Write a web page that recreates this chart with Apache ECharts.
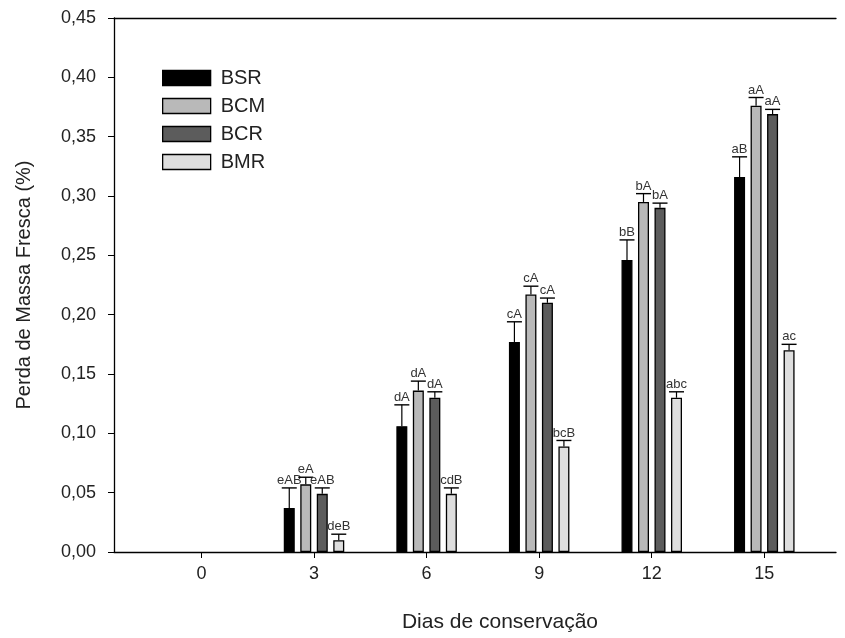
<!DOCTYPE html>
<html>
<head>
<meta charset="utf-8">
<script src="https://cdn.jsdelivr.net/npm/echarts@6/dist/echarts.min.js"></script>
<style>html,body{margin:0;padding:0;background:#fff}#c{width:845px;height:638px}</style>
</head>
<body>
<div id="c"></div>
<script>
var days = [0, 3, 6, 9, 12, 15];
var seriesNames = ['BSR', 'BCM', 'BCR', 'BMR'];
var BSR = [0, 0.037, 0.106, 0.177, 0.246, 0.316];
var BCM = [0, 0.057, 0.136, 0.217, 0.295, 0.376];
var BCR = [0, 0.049, 0.130, 0.210, 0.290, 0.369];
var BMR = [0, 0.010, 0.049, 0.089, 0.130, 0.170];
var BSR_err = [0, 0.017, 0.018, 0.017, 0.017, 0.017];
var BCM_err = [0, 0.006, 0.008, 0.007, 0.007, 0.007];
var BCR_err = [0, 0.005, 0.005, 0.004, 0.004, 0.004];
var BMR_err = [0, 0.005, 0.005, 0.005, 0.005, 0.005];
var BSR_lab = ['', 'eAB', 'dA', 'cA', 'bB', 'aB'];
var BCM_lab = ['', 'eA', 'dA', 'cA', 'bA', 'aA'];
var BCR_lab = ['', 'eAB', 'dA', 'cA', 'bA', 'aA'];
var BMR_lab = ['', 'deB', 'cdB', 'bcB', 'abc', 'ac'];

var values = [BSR, BCM, BCR, BMR];
var errs = [BSR_err, BCM_err, BCR_err, BMR_err];
var labs = [BSR_lab, BCM_lab, BCR_lab, BMR_lab];
var colors = ['#000000', '#b9b9b9', '#5c5c5c', '#dedede'];

var BAR_W = 11, BAR_STEP = 16.5, CAP_W = 15;
var font = '"Liberation Sans", Arial, sans-serif';

var series = [];
seriesNames.forEach(function (name, i) {
  var d = [];
  days.forEach(function (day, k) { if (values[i][k] > 0) d.push([day, values[i][k]]); });
  series.push({
    name: name, type: 'bar', data: d, barWidth: BAR_W, barGap: '50%',
    itemStyle: { color: colors[i], borderColor: '#000', borderWidth: 1.3 },
    silent: true, z: 2
  });
});
seriesNames.forEach(function (name, i) {
  var d = [];
  days.forEach(function (day, k) { if (values[i][k] > 0) d.push([day, values[i][k], errs[i][k], k]); });
  series.push({
    type: 'custom', data: d, silent: true, z: 3, clip: false,
    renderItem: function (params, api) {
      var x = api.value(0), v = api.value(1), e = api.value(2), k = api.value(3);
      var base = api.coord([x, v]);
      var top = api.coord([x, v + e]);
      var cx = base[0] + (i - 1.5) * BAR_STEP;
      return {
        type: 'group',
        children: [
          { type: 'line', shape: { x1: cx, y1: base[1], x2: cx, y2: top[1] }, style: { stroke: '#000', lineWidth: 1.2 } },
          { type: 'line', shape: { x1: cx - CAP_W / 2, y1: top[1], x2: cx + CAP_W / 2, y2: top[1] }, style: { stroke: '#000', lineWidth: 1.4 } },
          { type: 'text', x: cx, y: top[1] - 1, style: { text: labs[i][k], fill: '#333', font: '13px ' + font, align: 'center', verticalAlign: 'bottom' } }
        ]
      };
    }
  });
});

var chart = echarts.init(document.getElementById('c'));
chart.setOption({
  animation: false,
  backgroundColor: '#fff',
  textStyle: { fontFamily: font },
  grid: { left: 114, top: 18, right: 9, bottom: 85, containLabel: false },
  legend: {
    data: seriesNames, orient: 'vertical', left: 162, top: 68, padding: 0,
    itemWidth: 48, itemHeight: 15, itemGap: 8,
    icon: 'rect',
    itemStyle: { borderColor: '#000', borderWidth: 1.3 },
    textStyle: { fontSize: 20, lineHeight: 15, color: '#222', fontFamily: font, padding: [0, 0, 0, 5] }
  },
  xAxis: [{
    type: 'value', min: -2.33, max: 16.91,
    name: 'Dias de conservação', nameLocation: 'middle', nameGap: 60,
    nameTextStyle: { fontSize: 21, color: '#222', fontFamily: font, padding: [0, 0, 0, 50] },
    splitLine: { show: false },
    axisLine: { show: true, onZero: false, lineStyle: { color: '#000', width: 1.3 } },
    axisTick: { show: true, length: 6, customValues: days, lineStyle: { color: '#000' } },
    axisLabel: { customValues: days, fontSize: 18, color: '#222', margin: 13 }
  }, {
    type: 'value', position: 'top', min: -2.33, max: 16.91,
    splitLine: { show: false },
    axisLine: { show: true, onZero: false, lineStyle: { color: '#000', width: 1.3 } },
    axisTick: { show: false }, axisLabel: { show: false }
  }],
  yAxis: {
    type: 'value', min: 0, max: 0.45, interval: 0.05,
    name: 'Perda de Massa Fresca (%)', nameLocation: 'middle', nameGap: 80,
    nameTextStyle: { fontSize: 20, color: '#222', fontFamily: font },
    splitLine: { show: false },
    axisLine: { show: true, onZero: false, lineStyle: { color: '#000', width: 1.3 } },
    axisTick: { show: true, length: 6, lineStyle: { color: '#000' } },
    axisLabel: {
      fontSize: 18, color: '#222', margin: 18,
      formatter: function (v) { return v.toFixed(2).replace('.', ','); }
    }
  },
  series: series
});
</script>
</body>
</html>
